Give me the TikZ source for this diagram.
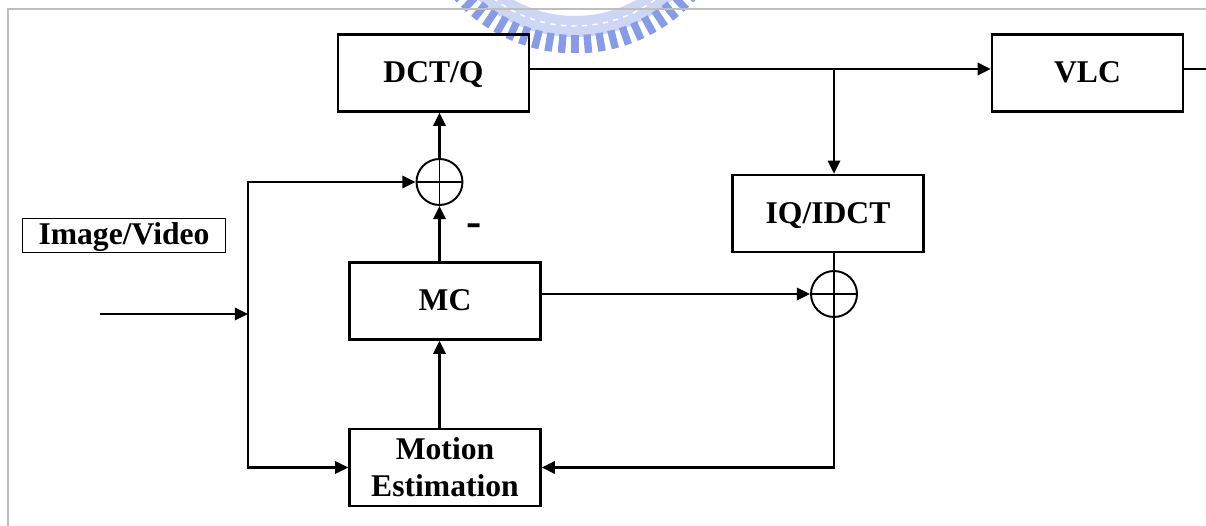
\documentclass[tikz,border=0pt]{standalone}
\usepackage{fontspec}
\setmainfont{Liberation Serif}
\usetikzlibrary{arrows.meta}
\definecolor{framegray}{RGB}{190,190,190}
\definecolor{logoblue}{RGB}{135,155,230}
\definecolor{logolight}{RGB}{205,214,245}
\begin{document}
\begin{tikzpicture}[x=0.02cm, y=-0.02cm,
  blk/.style={draw, line width=1.4pt, minimum width=3.82cm, minimum height=1.54cm,
    font=\fontsize{18}{21}\selectfont\bfseries, align=center, inner sep=0pt, text depth=1pt},
  lbl/.style={draw, line width=1.1pt, minimum width=4.06cm, minimum height=0.68cm,
    font=\fontsize{18}{21}\selectfont\bfseries, inner sep=0pt, text depth=2pt},
  sumnode/.style={circle, draw, line width=1.1pt, minimum size=0.92cm, inner sep=0pt,
    path picture={\draw[line width=1.1pt]
      (path picture bounding box.north) -- (path picture bounding box.south)
      (path picture bounding box.west) -- (path picture bounding box.east);}},
  conn/.style={line width=1.4pt},
  arr/.style={conn, -{Triangle[length=7.5pt,width=7pt]}},
  framestyle/.style={draw=framegray, line width=1pt}
]
\useasboundingbox (0,0) rectangle (1206,526);

% watermark logo (partly visible)
\begin{scope}
  \clip (0,0) rectangle (1206,526);
  \fill[logolight, even odd rule] (575,-109) circle (2.92cm) (575,-109) circle (2.50cm);
  \draw[white, dashed, line width=0.8pt] (575,-109) circle (2.70cm);
  \foreach \k in {-10,...,10}
    \draw[logoblue, line width=4.2pt] (575,-109) ++(-90+4.8*\k:2.88cm) -- ++(-90+4.8*\k:0.37cm);
\end{scope}

% gray frame
\draw[framestyle] (1206,9) -- (7.7,9) -- (7.7,526);

% blocks
\node[blk] (dct) at (433.5,73) {DCT/Q};
\node[blk] (vlc) at (1087.5,73) {VLC};
\node[blk] (iq)  at (828,213.5) {IQ/IDCT};
\node[blk] (mc)  at (445,301) {MC};
\node[blk] (me)  at (445,467.5) {Motion\\Estimation};
\node[lbl] (img) at (124,235.5) {Image/Video};
\node[sumnode] (sum1) at (439.5,182) {};
\node[sumnode] (sum2) at (834,294) {};
\node[font=\fontsize{26}{26}\selectfont\bfseries] (minus) at (474,230) {-};

% coordinates
\coordinate (br) at (834,69);
\coordinate (out) at (1206,69);
\coordinate (in) at (100,314);
\coordinate (j) at (248,314);

% connectors
\draw[arr] (dct.east |- br) -- (vlc.west |- br);
\draw[conn] (vlc.east |- br) -- (out);
\draw[arr] (br) -- (br |- iq.north);
\draw[arr] (in) -- (j);
\draw[arr] (j) |- (sum1.west);
\draw[arr] (j) |- (me.west);
\draw[arr] (sum1.north) -- (sum1 |- dct.south);
\draw[arr] (sum1 |- mc.north) -- (sum1.south);
\draw[arr] (sum1 |- me.north) -- (sum1 |- mc.south);
\draw[arr] (mc.east |- sum2) -- (sum2.west);
\draw[conn] (sum2 |- iq.south) -- (sum2.north);
\draw[arr] (sum2.south) |- (me.east);
\end{tikzpicture}
\end{document}
